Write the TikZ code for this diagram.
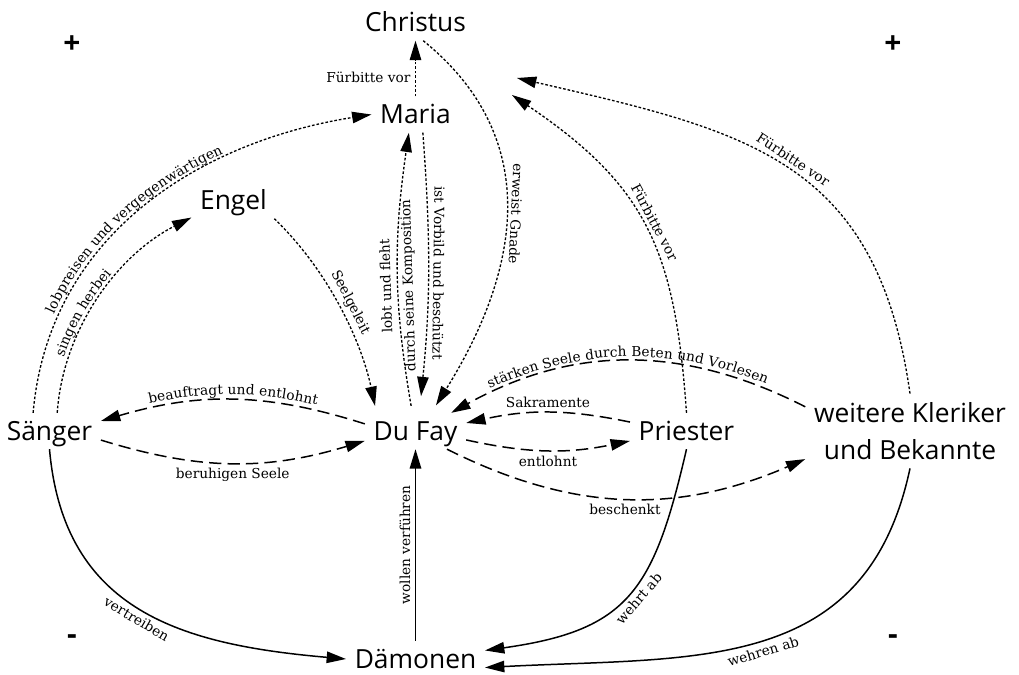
\documentclass[tikz,border=0pt]{standalone}
\usepackage{fontspec}
\setmainfont{Open Sans}
\newfontfamily\lblfam{DejaVu Serif}
\usetikzlibrary{positioning,arrows.meta,decorations.text}
\newcommand\lblsize{\lblfam\fontsize{7.8}{12.5}\selectfont}
\tikzset{
  actor/.style={font=\fontsize{15}{21}\selectfont, inner sep=0pt, outer sep=5pt, text height=10.7pt, text depth=0pt},
  sign/.style={font=\bfseries\fontsize{17}{20}\selectfont, inner sep=0pt},
  lbl/.style={font=\lblsize, inner sep=2.5pt},
  plea/.style={line width=0.75pt, dash pattern=on 1.5pt off 1.1pt},
  deal/.style={line width=0.85pt, dash pattern=on 7pt off 3.5pt},
  fight/.style={line width=0.85pt},
  along/.style 2 args={postaction={decorate,decoration={text along path,text align={center,right indent=#2},raise=2.5pt,text={|\lblsize|#1}}}},
  along back/.style 2 args={postaction={decorate,decoration={text along path,reverse path,text align=center,raise=#2,text={|\lblsize|#1}}}}
}
\begin{document}
\begin{tikzpicture}[node distance=2cm,on grid,auto,>={Triangle[length=11pt,width=6.5pt]}]
   \useasboundingbox (-8.31,-4.86) rectangle (12.07,8.62);
   \node[actor] (dufay) {Du Fay};
   \node[actor] (maria) [above=6.33cm of dufay] {Maria};
   \node[actor] (christus) [above=1.84cm of maria] {Christus};
   \node[actor] (engel) [above left=4.61cm and 3.64cm of dufay] {Engel};
   \node[actor] (saenger) [left=7.32cm of dufay] {Sänger};
   \node[actor] (priester) [right=5.42cm of dufay] {Priester};
   \node[actor, text height=, text depth=, align=center] (kleriker) [right=4.47cm of priester] {weitere Kleriker\\und Bekannte};
   \node[actor] (daemonen) [below=4.56cm of dufay] {Dämonen};
   \node[sign] (plusL) at (-6.87,7.72) {+};
   \node[sign] (plusR) at (9.55,7.72) {+};
   \node[sign, anchor=base] (minusL) at (-6.87,-4.26) {-};
   \node[sign, anchor=base] (minusR) at (9.55,-4.26) {-};
   \coordinate (intercedeA) at (2.03,7.06);
   \coordinate (intercedeB) at (1.93,6.72);
    \path[->]
    (maria) edge [plea] node[lbl, pos=0.34] {Fürbitte vor} (christus)
    (saenger.132) edge [plea, out=85, in=189, along={lobpreisen und vergegenwärtigen}{30pt}] (maria.west)
    (saenger.67) edge [plea, out=86, in=207, looseness=0.9, along={singen herbei}{24pt}] (engel.202)
    (engel.-24) edge [plea, out=-44, in=102, looseness=0.87, shorten >=4pt] node[lbl, sloped] {Seelgeleit} (dufay.155)
    (dufay.100) edge [plea, bend left=9, shorten <=4pt] node[lbl, sloped, allow upside down, pos=0.45, align=center, auto=false] {lobt und fleht\\durch seine Komposition} (maria.-110)
    (maria.-68) edge [plea, bend left=5, shorten >=9.5pt] node[lbl, sloped, allow upside down] {ist Vorbild und beschützt} (dufay.78)
    (christus.-67) edge [plea, out=-39, in=58, looseness=1.1, shorten >=5pt] node[lbl, sloped, allow upside down] {erweist Gnade} (dufay.49)
    (priester.north) edge [plea, out=94, in=-34, looseness=1.15] node[lbl, sloped] {Fürbitte vor} (intercedeB)
    (kleriker.north) edge [plea, out=98, in=-13, looseness=1.2] node[lbl, sloped] {Fürbitte vor} (intercedeA)
    (kleriker.167) edge [deal, bend right=28, along back={stärken Seele durch Beten und Vorlesen}{2.5pt}] (dufay.27)
    (priester.171) edge [deal, bend right=12] node[lbl, swap] {Sakramente} (dufay.9)
    (dufay.-10) edge [deal, bend right=12] node[lbl, swap] {entlohnt} (priester.190)
    (dufay.-30) edge [deal, bend right=25] node[lbl, swap] {beschenkt} (kleriker.195)
    (dufay.172) edge [deal, bend right=17, along back={beauftragt und entlohnt}{3pt}] (saenger.11)
    (saenger.-10) edge [deal, bend right=17] node[lbl, sloped, swap] {beruhigen Seele} (dufay.191)
    (saenger.south) edge [fight, out=-85, in=175, looseness=1.15] node[lbl, sloped, swap] {vertreiben} (daemonen.west)
    (daemonen.north) edge [fight] node[lbl, sloped, allow upside down] {wollen verführen} (dufay.south)
    (priester.south) edge [fight, out=-103, in=8, looseness=1.3] node[lbl, sloped, swap, pos=0.48] {wehrt ab} (daemonen.7)
    (kleriker.south) edge [fight, out=-102, in=3, looseness=1.15] node[lbl, sloped, swap] {wehren ab} (daemonen.-7);
\end{tikzpicture}
\end{document}
